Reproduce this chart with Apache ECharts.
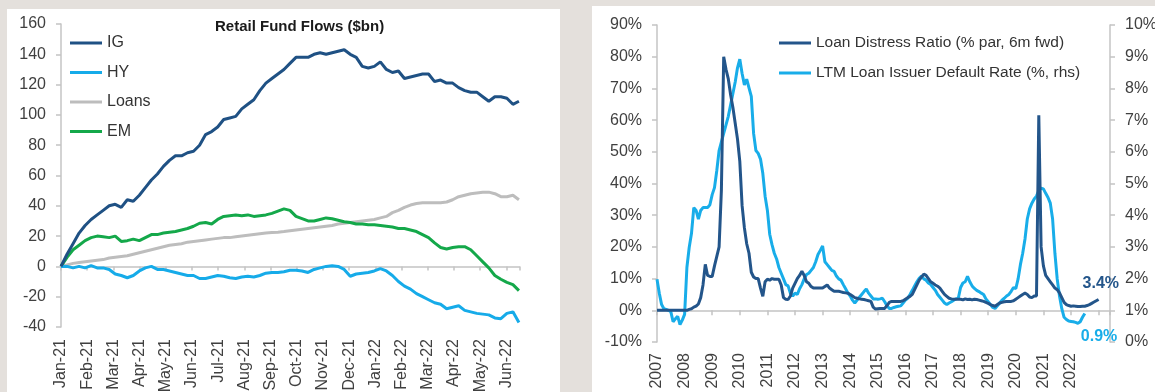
<!DOCTYPE html>
<html>
<head>
<meta charset="utf-8">
<script src="https://cdn.jsdelivr.net/npm/echarts/dist/echarts.min.js"></script>
<style>
  html, body { margin: 0; padding: 0; background: #e4e0dc; }
  #chart { width: 1155px; height: 392px; }
</style>
</head>
<body>
<div id="chart"></div>
<script>
// ---- Retail fund flows, cumulative $bn, weekly from the first week of Jan-21 ----
const monthLabels = ['Jan-21','Feb-21','Mar-21','Apr-21','May-21','Jun-21','Jul-21','Aug-21','Sep-21',
  'Oct-21','Nov-21','Dec-21','Jan-22','Feb-22','Mar-22','Apr-22','May-22','Jun-22'];

const igFlows = [0,8,15,22,27,31,34,37,40,41, 39,44,43,47,52,57,61,66,70,73,
  73,75,76,80,87,89,92,97,98,99, 104,107,110,116,121,124,127,130,134,138,
  138,138,140,141,140,141,142,143,140,138, 132,131,132,135,130,128,129,124,125,126,
  127,127,122,123,121,121,118,116,115,115, 112,109,112,112,111,107,109];

const hyFlows = [0,0,-1,0,-1,0.5,-1,-1,-2,-5, -6,-7.5,-6,-3,-1,0,-2,-2,-3,-4,
  -5,-6,-6,-8,-8,-7,-6,-6.5,-7.5,-8, -7,-6.5,-7,-6,-4.5,-4,-4,-3.5,-2.5,-2.5,
  -3,-4,-2,-1,0,0.5,0,-2,-6.5,-5, -4.5,-4,-3,-1.5,-3,-6,-10,-13,-15,-18,
  -20,-22,-24,-25,-28,-27,-26,-29,-30,-31, -31.5,-32,-34,-34.5,-31,-30,-37];

const loanFlows = [0,1,2,2.5,3,3.5,4,4.5,5.5,6, 6.5,7,8,9,10,11,12,13,14,14.5,
  15,16,16.5,17,17.5,18,18.5,19,19,19.5, 20,20.5,21,21.5,22,22.3,22.6,23,23.5,24,
  24.5,25,25.5,26,26.5,27,28,28.5,29,29.5, 30,30.5,31,32,33,35.5,37,39,40.5,41.5,
  42,42,42,42,42.5,44,46,47,48,48.5, 49,49,48,46,46,47,44];

const emFlows = [0,6,11,14,17,19,20,19.5,19,20, 16.5,17,18,17,19,21,21,22,22.5,23,
  24,25,26.5,28.5,29,28,31,33,33.5,34, 33.5,34,33,33.5,34,35,36.5,38,37,33,
  31.5,30,30,31,32,31.5,30.5,29.5,29,28, 28,27.5,27.5,27,26.5,26,25,25,24,23,
  21,19,15.5,12.5,11.5,12.5,13,13,11,7, 3,-1,-6,-8.5,-10.5,-12,-16];

const flowTicks = [-40, 160, 20]; // min, max, step of the $bn axis

// ---- Leveraged loans, monthly from Jan-2007 ----
// Distress ratio (% of par), shifted 6 months forward: Jan-2007 .. Jan-2023
const distressRatio = [
  0,0,0,0,0,0,0,0,0,0,0,0,
  0,0,0.3,0.5,1,1.3,2,4,8,14.5,11,10.7,
  10.7,14,17,20,38,80,76,73,68,64,59,54,
  47,33,26,21,18,12,10.5,10,10,7,4.4,9,
  9.8,9.5,10,9.8,9.8,9.8,8,4,3.5,3.4,4.5,7,
  8.5,10,11,12.3,11,9,8.5,7.5,7,7,7,7,
  7,7.5,8,7,6.5,6,6,6,5.8,5.6,5.5,5.4,
  5,4.5,4,3.8,3.6,3.5,3.4,3.2,3,2.8,1,0.4,
  0.5,0.6,0.6,0.6,1.5,2.5,2.8,2.8,2.8,2.8,2.8,3,
  3.5,4,4.4,5,6.5,8,9.5,10.5,11.4,11,10,9,
  8.5,8,7.6,7,6,5,4.4,3.8,3.6,3.5,3.5,3.5,
  3.5,3.3,3.6,3.4,3.5,3.3,3.5,3.4,3.2,3,2.8,2.5,
  2.2,1.8,1.5,1.3,1.8,2.3,2.5,2.7,2.8,2.8,2.8,3,
  3.5,4,4.5,5,5.4,5,4.2,4,4.5,4.5,61.5,20,
  14,11,10,9,8,7,6.5,5.5,4,2.5,1.8,1.5,
  1.3,1.4,1.3,1.2,1.2,1.3,1.3,1.5,1.8,2.2,2.6,3.0,
  3.4
];

// LTM issuer default rate (%, right-hand scale): Jan-2007 .. Jul-2022
const defaultRate = [
  1.98,1.54,1.18,1.05,1.03,1.0,0.96,0.64,0.73,0.81,0.55,0.69,
  0.87,2.35,2.98,3.43,4.24,4.15,3.88,4.15,4.24,4.24,4.24,4.33,
  4.65,4.87,5.41,6.04,6.31,6.58,6.85,7.12,7.48,7.84,8.2,8.65,
  8.92,8.47,8.11,8.29,8.02,7.75,6.58,6.04,5.95,5.77,5.32,4.6,
  4.15,3.4,3.07,2.8,2.62,2.35,2.17,1.99,1.81,1.77,1.54,1.45,
  1.54,1.5,1.68,1.81,1.99,2.13,2.17,2.26,2.35,2.53,2.76,2.89,
  3.03,2.53,2.44,2.35,2.26,2.23,2.08,1.99,1.95,1.81,1.68,1.54,
  1.45,1.32,1.23,1.32,1.41,1.5,1.59,1.67,1.54,1.45,1.36,1.36,
  1.35,1.36,1.38,1.27,1.14,1.06,1.06,1.09,1.11,1.13,1.14,1.23,
  1.32,1.38,1.5,1.63,1.77,1.9,2.01,2.08,1.99,1.95,1.86,1.81,
  1.72,1.63,1.5,1.41,1.32,1.23,1.18,1.23,1.27,1.32,1.36,1.38,
  1.72,1.86,1.9,2.07,1.9,1.77,1.69,1.63,1.59,1.54,1.5,1.36,
  1.27,1.18,1.09,1.06,1.14,1.23,1.32,1.38,1.45,1.5,1.6,1.72,
  1.68,1.99,2.44,2.8,3.25,3.88,4.2,4.38,4.51,4.6,4.78,4.85,
  4.83,4.69,4.56,4.38,3.88,2.8,1.99,1.45,1.05,0.78,0.71,0.66,
  0.65,0.64,0.62,0.59,0.64,0.78,0.9
];

const distressTicks = [-10, 90, 10]; // left axis, %
const defaultTicks = [0, 10, 1];     // right axis, %
const firstYear = 2007;
const lastYearLabel = 2022;

const DISTRESS = 'Loan Distress Ratio (% par, 6m fwd)';
const DEFAULT_RATE = 'LTM Loan Issuer Default Rate (%, rhs)';

// week index -> months since start of Jan-21
const WEEK = 7 / 30.4375;
const weekly = arr => arr.map((v, i) => [i * WEEK, v]);
const monthly = arr => arr.map((v, i) => [firstYear + i / 12, v]);

const FONT = '"Liberation Sans", Arial, sans-serif';
const AXIS_GREY = '#c4c4c4';
const LABEL_GREY = '#404040';

const colors = {
  ig: '#1f5184', hy: '#16abe9', loans: '#bdbdbd', em: '#14a84a',
  distress: '#23558a', defaultRate: '#18ade9'
};

const chart = echarts.init(document.getElementById('chart'), null, { renderer: 'canvas' });

const lineSeries = (name, data, color, xi, yi, extra) => Object.assign({
  name, type: 'line', data, xAxisIndex: xi, yAxisIndex: yi,
  symbol: 'none', showSymbol: false, smooth: false,
  lineStyle: { color, width: 3 }, itemStyle: { color },
  emphasis: { disabled: true }
}, extra || {});

chart.setOption({
  animation: false,
  backgroundColor: '#e4e0dc',
  textStyle: { fontFamily: FONT },
  graphic: [
    { type: 'rect', z: -10, shape: { x: 7, y: 9, width: 553, height: 400 }, style: { fill: '#ffffff' } },
    { type: 'rect', z: -10, shape: { x: 592, y: 6, width: 580, height: 400 }, style: { fill: '#ffffff' } }
  ],
  title: {
    text: 'Retail Fund Flows ($bn)', left: 215, top: 19, padding: 0,
    textStyle: { fontSize: 15, fontWeight: 'bold', color: '#1a1a1a', fontFamily: FONT }
  },
  legend: [
    {
      data: ['IG', 'HY', 'Loans', 'EM'], orient: 'vertical', left: 70, top: 34, padding: 0,
      icon: 'rect', itemWidth: 32, itemHeight: 3, itemGap: 11.5,
      textStyle: { fontSize: 16, color: '#333', lineHeight: 18, fontFamily: FONT }
    },
    {
      data: [DISTRESS, DEFAULT_RATE], orient: 'vertical', left: 779, top: 34, padding: 0,
      icon: 'rect', itemWidth: 32, itemHeight: 3, itemGap: 12,
      textStyle: { fontSize: 15.5, color: '#333', lineHeight: 18, fontFamily: FONT }
    }
  ],
  grid: [
    { left: 61, top: 24, width: 458.5, height: 303, outerBoundsMode: 'none', containLabel: false },
    { left: 657, top: 25, width: 453, height: 317, outerBoundsMode: 'none', containLabel: false }
  ],
  xAxis: [
    { // month labels along the bottom of the flows panel
      gridIndex: 0, type: 'value', min: 0, max: 17.5, interval: 1,
      axisLine: { show: false, onZero: false }, axisTick: { show: false }, splitLine: { show: false },
      axisLabel: {
        rotate: 90, margin: 12, fontSize: 16, color: LABEL_GREY, fontFamily: FONT,
        formatter: v => (Number.isInteger(v) && monthLabels[v]) ? monthLabels[v] : ''
      }
    },
    { // zero line of the flows panel with month ticks
      gridIndex: 0, type: 'value', min: 0, max: 17.5, interval: 1, position: 'top',
      axisLine: { show: true, onZero: true, onZeroAxisIndex: 0, lineStyle: { color: AXIS_GREY, width: 1.5 } },
      axisTick: { show: true, inside: true, length: 4, lineStyle: { color: AXIS_GREY, width: 1.5 } },
      axisLabel: { show: false }, splitLine: { show: false }
    },
    { // year labels along the bottom of the loans panel
      gridIndex: 1, type: 'value', min: firstYear, max: firstYear + 453 / 27.6, interval: 1,
      axisLine: { show: false, onZero: false }, axisTick: { show: false }, splitLine: { show: false },
      axisLabel: {
        rotate: 90, margin: 11, fontSize: 16, color: LABEL_GREY, fontFamily: FONT,
        formatter: v => (Number.isInteger(v) && v <= lastYearLabel) ? String(v) : ''
      }
    },
    { // 0% line of the loans panel with year ticks
      gridIndex: 1, type: 'value', min: firstYear, max: firstYear + 453 / 27.6, interval: 1, position: 'top',
      axisLine: { show: true, onZero: true, onZeroAxisIndex: 1, lineStyle: { color: AXIS_GREY, width: 1.5 } },
      axisTick: { show: true, inside: true, length: 5, lineStyle: { color: AXIS_GREY, width: 1.5 } },
      axisLabel: { show: false }, splitLine: { show: false }
    }
  ],
  yAxis: [
    {
      gridIndex: 0, type: 'value', min: flowTicks[0], max: flowTicks[1], interval: flowTicks[2],
      axisLine: { show: true, onZero: false, lineStyle: { color: AXIS_GREY, width: 1.5 } },
      axisTick: { show: true, length: 5, lineStyle: { color: AXIS_GREY, width: 1.5 } },
      splitLine: { show: false },
      axisLabel: { fontSize: 16, color: LABEL_GREY, margin: 15, fontFamily: FONT }
    },
    {
      gridIndex: 1, type: 'value', min: distressTicks[0], max: distressTicks[1], interval: distressTicks[2],
      axisLine: { show: true, onZero: false, lineStyle: { color: AXIS_GREY, width: 1.5 } },
      axisTick: { show: true, length: 5, lineStyle: { color: AXIS_GREY, width: 1.5 } },
      splitLine: { show: false },
      axisLabel: { fontSize: 16, color: LABEL_GREY, margin: 15, fontFamily: FONT, formatter: '{value}%' }
    },
    {
      gridIndex: 1, type: 'value', position: 'right',
      min: defaultTicks[0], max: defaultTicks[1], interval: defaultTicks[2],
      axisLine: { show: true, onZero: false, lineStyle: { color: AXIS_GREY, width: 1.5 } },
      axisTick: { show: true, length: 5, lineStyle: { color: AXIS_GREY, width: 1.5 } },
      splitLine: { show: false },
      axisLabel: { fontSize: 16, color: LABEL_GREY, margin: 15, fontFamily: FONT, formatter: '{value}%' }
    }
  ],
  series: [
    lineSeries('Loans', weekly(loanFlows), colors.loans, 0, 0),
    lineSeries('EM', weekly(emFlows), colors.em, 0, 0),
    lineSeries('HY', weekly(hyFlows), colors.hy, 0, 0),
    lineSeries('IG', weekly(igFlows), colors.ig, 0, 0),
    lineSeries(DEFAULT_RATE, monthly(defaultRate), colors.defaultRate, 2, 2, {
      endLabel: {
        show: true, formatter: p => p.value[1].toFixed(1) + '%',
        color: colors.defaultRate, fontWeight: 'bold', fontSize: 16, fontFamily: FONT,
        offset: [-12, 23]
      }
    }),
    lineSeries(DISTRESS, monthly(distressRatio), colors.distress, 2, 1, {
      endLabel: {
        show: true, formatter: p => p.value[1].toFixed(1) + '%',
        color: colors.distress, fontWeight: 'bold', fontSize: 16, fontFamily: FONT,
        offset: [-24, -16]
      }
    })
  ]
});
</script>
</body>
</html>
